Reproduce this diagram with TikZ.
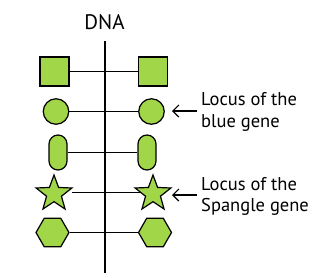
\documentclass[tikz,border=0pt]{standalone}
\usepackage{fontspec}
\setmainfont{PT Sans}
\usetikzlibrary{shapes.geometric,arrows.meta}
\definecolor{gfill}{RGB}{160,214,72}
\tikzset{
  shp/.style={draw=black, fill=gfill, line width=1.2pt, inner sep=0pt},
  sqr/.style={shp, rectangle, minimum size=29pt},
  circ/.style={shp, circle, minimum size=25.5pt},
  oval/.style={shp, rectangle, rounded corners=9pt, minimum width=18pt, minimum height=35pt},
  starr/.style={shp, star, star points=5, star point ratio=2.4, minimum size=37.6pt},
  hexa/.style={shp, regular polygon, regular polygon sides=6, minimum size=33pt},
  link/.style={line width=1.2pt},
  lbl/.style={font=\fontsize{18.5pt}{21.5pt}\selectfont, align=left, anchor=west, inner sep=0pt},
  pointer/.style={line width=1.2pt, -{Straight Barb[length=6pt,width=12pt]}}
}
\begin{document}
\begin{tikzpicture}[x=1pt,y=-1pt]
\useasboundingbox (0,0) rectangle (320,277);
\node[font=\fontsize{21pt}{24pt}\selectfont, inner sep=0pt] (dna) at (104.5,22) {DNA};
\coordinate (top) at (105,41);
\coordinate (bot) at (105,273);
\draw[link] (top) -- (bot);
% shapes
\node[sqr] (s1) at (54.5,71.5) {};
\node[sqr] (s2) at (153,71.5) {};
\node[circ] (c1) at (56,111.5) {};
\node[circ] (c2) at (151.5,111.5) {};
\node[oval] (o1) at (58,152.5) {};
\node[oval] (o2) at (147,152.5) {};
\node[starr] (t1) at (54,193.8) {};
\node[starr] (t2) at (153,193.8) {};
\node[hexa] (h1) at (52.5,232.5) {};
\node[hexa] (h2) at (155,232.5) {};
% links
\draw[link] (s1.east) -- (s2.west);
\draw[link] (c1.east) -- (c2.west);
\draw[link] (o1.east) -- (o2.west);
\coordinate (tl) at (71.5,192.7);
\coordinate (tr) at (141,192.7);
\draw[link] (tl) -- (tr);
\draw[link] (h1.east) -- (h2.west);
% arrows and labels
\coordinate (a1s) at (197,111);
\coordinate (a1e) at (172,111);
\draw[pointer] (a1s) -- (a1e);
\coordinate (a2s) at (197,195);
\coordinate (a2e) at (172,195);
\draw[pointer] (a2s) -- (a2e);
\node[lbl] (l1) at (201,112) {Locus of the\\blue gene};
\node[lbl] (l2) at (201,196.5) {Locus of the\\Spangle gene};
\end{tikzpicture}
\end{document}
